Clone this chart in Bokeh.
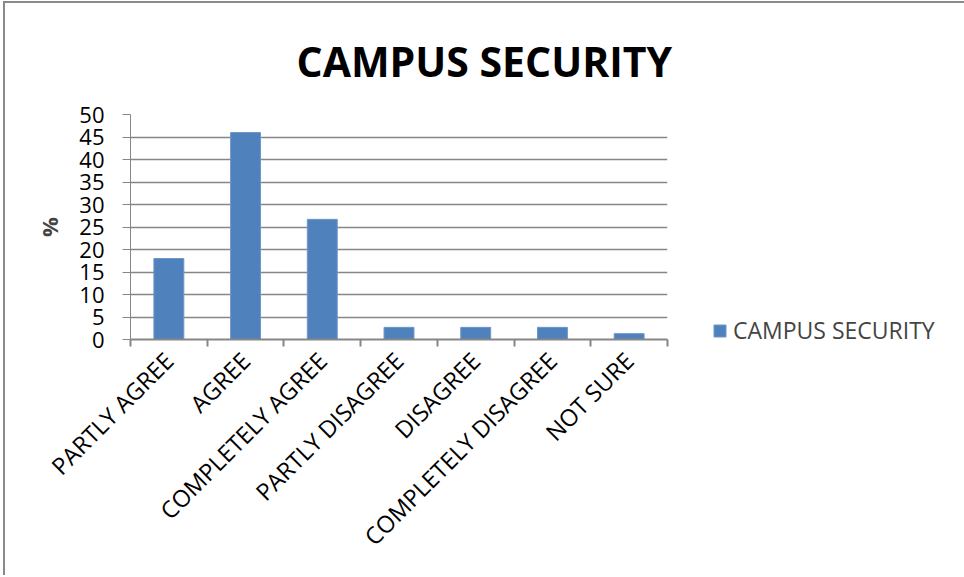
import math
from bokeh.plotting import figure
from bokeh.models import (Range1d, FixedTicker, ColumnDataSource, Legend, LegendItem, Title)
from bokeh.embed import file_html
from bokeh.resources import INLINE

categories = ["PARTLY AGREE", "AGREE", "COMPLETELY AGREE", "PARTLY DISAGREE",
              "DISAGREE", "COMPLETELY DISAGREE", "NOT SURE"]
values = [18.0, 46.0, 26.7, 2.7, 2.7, 2.7, 1.3]
series_name = "CAMPUS SECURITY"
y_ticks = [0, 5, 10, 15, 20, 25, 30, 35, 40, 45, 50]

n = len(categories)
centers = [i + 0.5 for i in range(n)]
bounds = [i for i in range(n + 1)]

FONT = "Open Sans"
GRAY = "#868686"

p = figure(frame_width=537, frame_height=225, output_backend="svg", toolbar_location=None,
           x_range=Range1d(0, n), y_range=Range1d(0, 50),
           min_border_left=125, min_border_right=0, min_border_top=111, min_border_bottom=236)
p.outline_line_color = None
p.background_fill_color = "white"
p.border_fill_color = "white"
p.styles = {"border-left": "2px solid #8a8a8a", "border-top": "2px solid #8a8a8a",
            "margin-left": "3px", "margin-top": "1px"}

src = ColumnDataSource(dict(x=centers, top=values, cat=categories))
r = p.vbar(x="x", top="top", width=0.39, source=src, fill_color="#4F81BD",
           line_color="#6d96c9", line_width=1)

# title
p.title = Title(text="CAMPUS SECURITY", text_font=FONT, text_font_size="41px",
                text_font_style="bold", align="left", offset=166, text_color="black",
                standoff=52)

# x axis
xa = p.xaxis[0]
xa.ticker = FixedTicker(ticks=centers, minor_ticks=bounds)
xa.major_label_overrides = {c: lab for c, lab in zip(centers, categories)}
xa.major_label_orientation = math.pi / 4
xa.major_tick_line_color = None
xa.minor_tick_line_color = GRAY
xa.minor_tick_out = 7
xa.minor_tick_in = 0
xa.axis_line_color = GRAY
xa.axis_line_width = 2
xa.minor_tick_line_width = 2
xa.major_label_text_font = FONT
xa.major_label_text_font_size = "23.5px"
xa.major_label_text_color = "black"
xa.major_label_standoff = 10

# y axis
ya = p.yaxis[0]
ya.ticker = FixedTicker(ticks=y_ticks)
ya.axis_line_color = GRAY
ya.major_tick_line_color = GRAY
ya.major_tick_out = 8
ya.major_tick_in = 0
ya.minor_tick_line_color = None
ya.major_label_text_font = FONT
ya.major_label_text_font_size = "22px"
ya.major_label_text_color = "black"
ya.major_label_standoff = 18
ya.axis_label = "%"
ya.axis_label_text_font = FONT
ya.axis_label_text_font_style = "bold"
ya.axis_label_text_font_size = "22px"
ya.axis_label_standoff = 12

p.xgrid.grid_line_color = None
p.ygrid.grid_line_color = GRAY
p.ygrid.grid_line_width = 1.5

legend = Legend(items=[LegendItem(label=series_name, renderers=[r])],
                location=(45, -7), border_line_color=None, background_fill_alpha=0,
                glyph_width=15, glyph_height=15, label_text_font=FONT,
                label_text_font_size="23px", padding=0, margin=0, label_standoff=6)
p.add_layout(legend, "right")

open("out.html", "w").write(file_html(p, INLINE))
